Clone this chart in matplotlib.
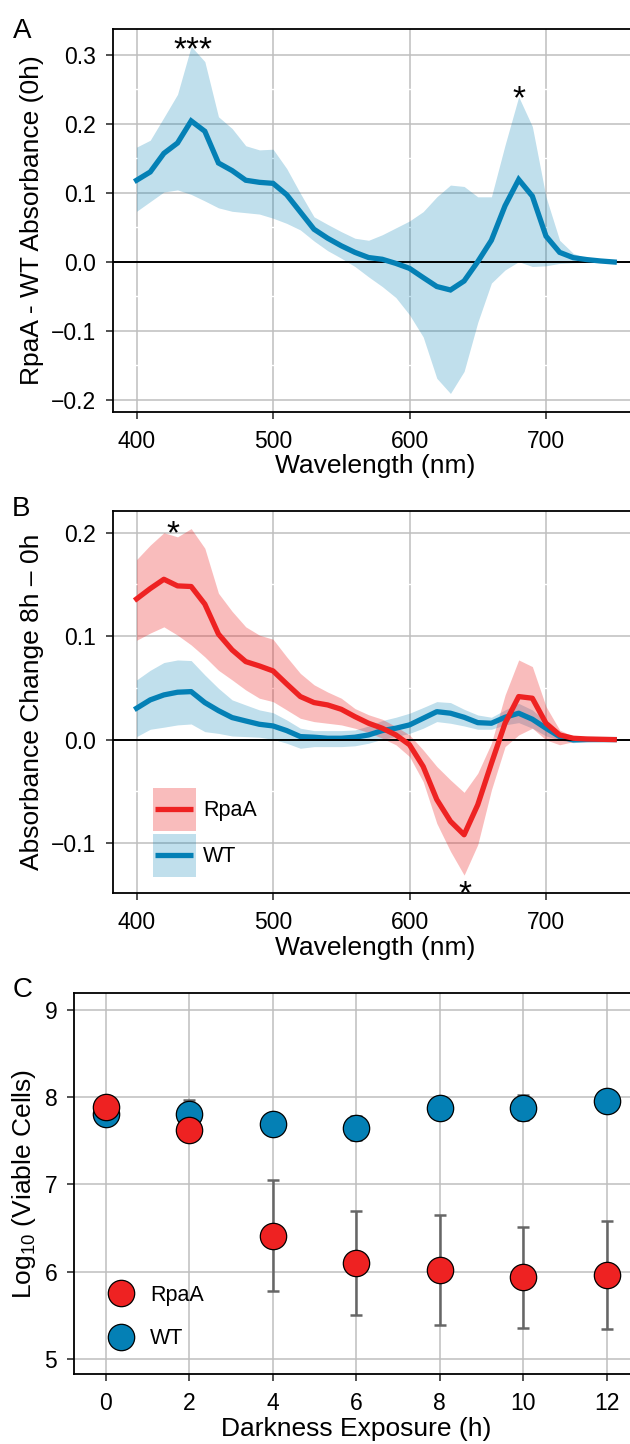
import matplotlib
matplotlib.use("Agg")
import matplotlib.pyplot as plt
from matplotlib.lines import Line2D
from matplotlib.patches import Rectangle
from matplotlib.legend_handler import HandlerBase
from matplotlib.ticker import FixedLocator

plt.rcParams['font.family'] = ['Liberation Sans', 'DejaVu Sans']
plt.rcParams['mathtext.fontset'] = 'custom'
plt.rcParams['mathtext.rm'] = 'Liberation Sans'

# ---------------- data ----------------
wavelength = [400, 410, 420, 430, 440, 450, 460, 470, 480, 490, 500, 510, 520, 530,
              540, 550, 560, 570, 580, 590, 600, 610, 620, 630, 640, 650, 660, 670,
              680, 690, 700, 710, 720, 730, 740, 750]

# Panel A: RpaA - WT absorbance (0h)
diff_mean = [0.118, 0.130, 0.157, 0.172, 0.204, 0.189, 0.143, 0.132, 0.118, 0.115,
             0.1135, 0.097, 0.072, 0.047, 0.034, 0.023, 0.0135, 0.006, 0.0035, -0.0025,
             -0.0097, -0.023, -0.036, -0.041, -0.028, 0.000, 0.031, 0.081, 0.119, 0.095,
             0.037, 0.0135, 0.0058, 0.003, 0.001, -0.0005]
diff_hi = [0.166, 0.176, 0.209, 0.2425, 0.312, 0.290, 0.210, 0.193, 0.168, 0.162,
           0.163, 0.135, 0.099, 0.065, 0.054, 0.0435, 0.034, 0.031, 0.039, 0.049,
           0.059, 0.0725, 0.094, 0.111, 0.109, 0.094, 0.094, 0.169, 0.239, 0.196,
           0.094, 0.031, 0.012, 0.005, 0.0025, 0.001]
diff_lo = [0.073, 0.087, 0.101, 0.104, 0.0975, 0.088, 0.078, 0.073, 0.071, 0.069,
           0.063, 0.0555, 0.046, 0.030, 0.016, 0.005, -0.007, -0.022, -0.036, -0.052,
           -0.077, -0.109, -0.169, -0.191, -0.159, -0.088, -0.031, -0.012, 0.000, -0.007,
           -0.006, -0.0025, -0.0015, -0.001, -0.001, -0.001]

# Panel B: absorbance change 8h - 0h
rpaa_mean = [0.136, 0.146, 0.155, 0.1486, 0.148, 0.131, 0.102, 0.0867, 0.0754, 0.0712,
             0.0664, 0.0538, 0.0416, 0.0358, 0.0335, 0.0293, 0.0222, 0.0158, 0.011, 0.0045,
             -0.005, -0.026, -0.058, -0.079, -0.092, -0.063, -0.023, 0.0158, 0.0416, 0.040,
             0.0158, 0.0045, 0.0013, 0.0006, 0.0003, 0.0]
rpaa_hi = [0.174, 0.188, 0.200, 0.196, 0.204, 0.185, 0.1415, 0.124, 0.109, 0.101,
           0.097, 0.080, 0.064, 0.053, 0.046, 0.040, 0.030, 0.024, 0.0197, 0.0126,
           0.0045, -0.010, -0.026, -0.039, -0.051, -0.0325, -0.0035, 0.043, 0.077, 0.0706,
           0.032, 0.0093, 0.003, 0.002, 0.002, 0.001]
rpaa_lo = [0.096, 0.103, 0.109, 0.101, 0.0915, 0.080, 0.067, 0.0577, 0.048, 0.040,
           0.0367, 0.0287, 0.0206, 0.0174, 0.0158, 0.0142, 0.011, 0.0068, 0.0013, -0.005,
           -0.0164, -0.0406, -0.081, -0.108, -0.131, -0.1015, -0.0487, -0.0068, 0.0045, 0.011,
           -0.0003, -0.005, -0.002, -0.001, -0.001, -0.001]
wt_mean = [0.0303, 0.0384, 0.0432, 0.0458, 0.0464, 0.0358, 0.028, 0.0213, 0.018, 0.0148,
           0.0132, 0.0087, 0.0029, 0.0023, 0.0013, 0.0013, 0.0023, 0.0045, 0.0087, 0.011,
           0.0142, 0.0206, 0.027, 0.0255, 0.0216, 0.0164, 0.0158, 0.0216, 0.0255, 0.0197,
           0.011, 0.0029, -0.0003, 0.0, 0.0, 0.0]
wt_hi = [0.0577, 0.067, 0.0745, 0.077, 0.0764, 0.0625, 0.0496, 0.0384, 0.0335, 0.0287,
         0.026, 0.019, 0.011, 0.0087, 0.0087, 0.0087, 0.0093, 0.0132, 0.0184, 0.0216,
         0.0255, 0.031, 0.0367, 0.0358, 0.0293, 0.0238, 0.0216, 0.0287, 0.035, 0.0287,
         0.0174, 0.006, 0.0023, 0.0013, 0.0013, 0.0013]
wt_lo = [0.0029, 0.010, 0.012, 0.0142, 0.0151, 0.0077, 0.006, 0.0035, 0.0029, 0.0023,
         0.0003, -0.0035, -0.0084, -0.0068, -0.0068, -0.0068, -0.006, -0.0035, 0.0003, 0.0029,
         0.006, 0.011, 0.0174, 0.0158, 0.0132, 0.010, 0.010, 0.0142, 0.0164, 0.011,
         0.0035, -0.0003, -0.003, -0.002, -0.0016, -0.0013]

# Panel C: viability
hours = [0, 2, 4, 6, 8, 10, 12]
wt_cells = [7.805, 7.81, 7.69, 7.648, 7.87, 7.88, 7.954]
wt_err = [0.05, 0.16, 0.10, 0.14, 0.08, 0.14, 0.10]
rpaa_cells = [7.885, 7.628, 6.414, 6.10, 6.02, 5.935, 5.962]
rpaa_err = [0.05, 0.06, 0.64, 0.60, 0.63, 0.58, 0.62]

# significance marks (wavelength, y)
stars_a = [("***", 441, 0.293), ("*", 680, 0.223)]
stars_b = [("*", 427, 0.190), ("*", 641, -0.158)]

# ---------------- style ----------------
RED = '#EE2222'
BLUE = '#0480B5'
GRID = '#BEBEBE'
TICK_FS = 16.5
LEG_FS = 15.5
TITLE_FS = 19
LW = 3.8

fig = plt.figure(figsize=(6.3, 14.44), dpi=100)
axA = fig.add_axes([0.17889, 0.71489, 0.83397, 0.26503])
axB = fig.add_axes([0.17889, 0.38137, 0.83397, 0.26475])
axC = fig.add_axes([0.11746, 0.04827, 0.8959, 0.26427])


def style(ax, xmaj, ymaj, xmin, ymin):
    ax.set_axisbelow(True)
    ax.xaxis.set_major_locator(FixedLocator(xmaj))
    ax.yaxis.set_major_locator(FixedLocator(ymaj))
    ax.xaxis.set_minor_locator(FixedLocator(xmin))
    ax.yaxis.set_minor_locator(FixedLocator(ymin))
    ax.grid(which='major', color=GRID, lw=1.1)
    ax.grid(which='minor', color='white', lw=1.0)
    ax.tick_params(which='major', direction='out', length=5, width=1.2,
                   color='#333333', labelsize=TICK_FS, labelcolor='black')
    ax.tick_params(which='minor', length=0)
    ax.tick_params(axis='x', pad=8)
    ax.tick_params(axis='y', pad=7)
    for s in ax.spines.values():
        s.set_linewidth(1.3)
        s.set_color('black')


class RibbonHandler(HandlerBase):
    def create_artists(self, legend, orig_handle, xdescent, ydescent, width,
                       height, fontsize, trans):
        fill, line = orig_handle
        r = Rectangle((-xdescent, -ydescent), width, height, facecolor=fill,
                      edgecolor='none', transform=trans)
        yc = -ydescent + height / 2
        l = Line2D([-xdescent + 2, -xdescent + width - 2], [yc, yc], color=line,
                   lw=LW, solid_capstyle='butt', transform=trans)
        return [r, l]


# ---------------- Panel A ----------------
axA.fill_between(wavelength, diff_lo, diff_hi, color=BLUE, alpha=0.25, lw=0)
axA.axhline(0, color='black', lw=1.4)
axA.plot(wavelength, diff_mean, color=BLUE, lw=LW, solid_joinstyle='miter')
for t, x, y in stars_a:
    axA.text(x, y, t, ha='center', va='baseline', fontsize=24)
axA.set_xlim(382.5, 767.5)
axA.set_ylim(-0.2174, 0.3372)
style(axA, [400, 500, 600, 700], [-0.2, -0.1, 0.0, 0.1, 0.2, 0.3],
      [450, 550, 650, 750], [-0.15, -0.05, 0.05, 0.15, 0.25])
axA.set_yticklabels(['\u22120.2', '\u22120.1', '0.0', '0.1', '0.2', '0.3'])
axA.set_xlabel('Wavelength (nm)', fontsize=TITLE_FS, labelpad=1)
axA.set_ylabel('RpaA - WT Absorbance (0h)', fontsize=TITLE_FS, labelpad=5)

# ---------------- Panel B ----------------
axB.fill_between(wavelength, wt_lo, wt_hi, color=BLUE, alpha=0.25, lw=0)
axB.plot(wavelength, wt_mean, color=BLUE, lw=LW)
axB.fill_between(wavelength, rpaa_lo, rpaa_hi, color=RED, alpha=0.3, lw=0)
axB.axhline(0, color='black', lw=1.4)
axB.plot(wavelength, rpaa_mean, color=RED, lw=LW)
for t, x, y in stars_b:
    axB.text(x, y, t, ha='center', va='baseline', fontsize=24)
axB.set_xlim(382.5, 767.5)
axB.set_ylim(-0.1486, 0.221)
style(axB, [400, 500, 600, 700], [-0.1, 0.0, 0.1, 0.2],
      [450, 550, 650, 750], [-0.05, 0.05, 0.15])
axB.set_yticklabels(['\u22120.1', '0.0', '0.1', '0.2'])
axB.set_xlabel('Wavelength (nm)', fontsize=TITLE_FS, labelpad=1)
axB.set_ylabel('Absorbance Change 8h \u2013 0h', fontsize=TITLE_FS, labelpad=5)
red_fill = (238 / 255, 34 / 255, 34 / 255, 0.3)
blue_fill = (4 / 255, 128 / 255, 181 / 255, 0.25)
axB.legend(handles=[(red_fill, RED), (blue_fill, BLUE)], labels=['RpaA', 'WT'],
           handler_map={tuple: RibbonHandler()}, loc='lower left',
           bbox_to_anchor=(0.0761, 0.0434), frameon=False, fontsize=LEG_FS,
           handlelength=2.0, handleheight=2.68, handletextpad=0.34,
           labelspacing=0.15, borderpad=0, borderaxespad=0)

# ---------------- Panel C ----------------
axC.errorbar(hours, wt_cells, yerr=wt_err, fmt='none', ecolor='#666666',
             elinewidth=1.8, capsize=4.5, capthick=1.8, zorder=2)
axC.errorbar(hours, rpaa_cells, yerr=rpaa_err, fmt='none', ecolor='#666666',
             elinewidth=1.8, capsize=4.5, capthick=1.8, zorder=2)
axC.scatter(hours, wt_cells, s=360, c=BLUE, edgecolors='black', linewidths=0.9, zorder=3)
axC.scatter(hours, rpaa_cells, s=360, c=RED, edgecolors='black', linewidths=0.9, zorder=3)
axC.set_xlim(-0.76, 12.76)
axC.set_ylim(4.825, 9.195)
style(axC, hours, [5, 6, 7, 8, 9], [], [])
axC.set_xlabel('Darkness Exposure (h)', fontsize=TITLE_FS, labelpad=1)
axC.set_ylabel(r'Log$_{\mathregular{10}}$ (Viable Cells)', fontsize=TITLE_FS, labelpad=5)
hC = [Line2D([], [], ls='none', marker='o', ms=19, mfc=RED, mec='black', mew=0.9),
      Line2D([], [], ls='none', marker='o', ms=19, mfc=BLUE, mec='black', mew=0.9)]
axC.legend(handles=hC, labels=['RpaA', 'WT'], loc='lower left',
           bbox_to_anchor=(0.0599, 0.0653), frameon=False, fontsize=LEG_FS,
           handlelength=1.2, handleheight=0.7, handletextpad=0.76,
           labelspacing=1.04, borderpad=0, borderaxespad=0)

# panel letters
for letter, x, y in [('A', 13, 37.7), ('B', 11.5, 516), ('C', 13, 996.7)]:
    fig.text(x / 630, 1 - y / 1444, letter, fontsize=TITLE_FS + 1, ha='left', va='baseline')

fig.savefig('out.png', dpi=100)
